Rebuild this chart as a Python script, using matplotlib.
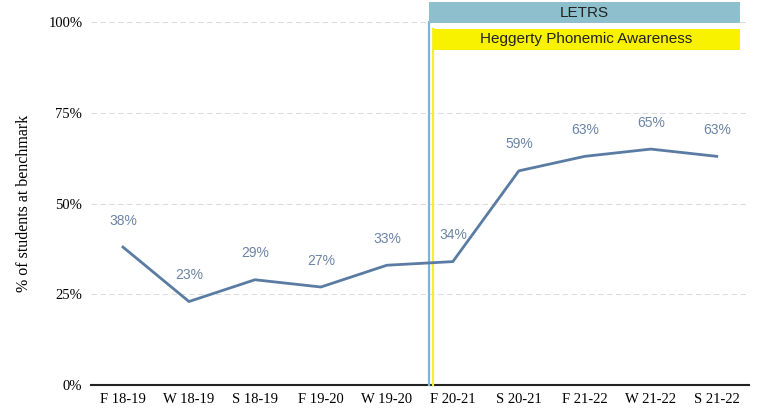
import matplotlib.pyplot as plt
from matplotlib.patches import Rectangle

# Benchmark data, fall / winter / spring per school year
terms = ['F 18-19', 'W 18-19', 'S 18-19', 'F 19-20', 'W 19-20',
         'F 20-21', 'S 20-21', 'F 21-22', 'W 21-22', 'S 21-22']
pct_benchmark = [38, 23, 29, 27, 33, 34, 59, 63, 65, 63]
y_ticks = [0, 25, 50, 75, 100]

fig = plt.figure(figsize=(7.62, 4.12), dpi=100)
ax = fig.add_axes([0.119, 0.0655, 0.864, 0.881])

x = list(range(len(terms)))
y = [v / 100 for v in pct_benchmark]
ax.plot(x, y, color='#5a7ca3', linewidth=2, zorder=4)

# data labels above each point
for xi, yi, v in zip(x, y, pct_benchmark):
    ax.annotate(f'{v}%', (xi, yi), xytext=(0, 19), textcoords='offset points',
                ha='center', va='center', fontsize=10, color='#6a84a6',
                family='Liberation Sans')

# faint dashed gridlines
for t in y_ticks[1:]:
    ax.axhline(t / 100, color='#dcdcdc', linewidth=0.8, linestyle=(0, (5, 3)), zorder=1)

ax.set_xlim(-0.49, 9.49)
ax.set_ylim(0, 1.0)
ax.set_xticks(x)
ax.set_xticklabels(terms, family='Liberation Serif', fontsize=10.5)
ax.set_yticks([t / 100 for t in y_ticks])
ax.set_yticklabels([f'{t}%' for t in y_ticks], family='Liberation Serif', fontsize=10.5)
ax.tick_params(length=0, pad=6)
ax.set_ylabel('% of students at benchmark', family='Liberation Serif', fontsize=11.5, labelpad=12)

for s in ['top', 'right', 'left']:
    ax.spines[s].set_visible(False)
ax.spines['bottom'].set_color('#222222')
ax.spines['bottom'].set_linewidth(1.5)

# program start markers
ax.plot([4.64, 4.64], [0, 1.0], color='#7fb4d6', linewidth=1.6, zorder=3, clip_on=False)
ax.plot([4.70, 4.70], [0, 0.98], color='#f4ee3a', linewidth=1.6, zorder=3, clip_on=False)

letrs = Rectangle((4.64, 0.997), 9.35 - 4.64, 0.058, facecolor='#8dc0cc',
                  edgecolor='none', clip_on=False, zorder=5)
ax.add_patch(letrs)
ax.text((4.64 + 9.35) / 2, 0.997 + 0.029, 'LETRS', ha='center', va='center',
        fontsize=11, color='#222222', family='Liberation Sans', zorder=6, clip_on=False)

hegg = Rectangle((4.70, 0.923), 9.35 - 4.70, 0.058, facecolor='#f8f200',
                 edgecolor='none', clip_on=False, zorder=5)
ax.add_patch(hegg)
ax.text((4.70 + 9.35) / 2, 0.923 + 0.029, 'Heggerty Phonemic Awareness', ha='center',
        va='center', fontsize=11, color='#222222', family='Liberation Sans', zorder=6)

fig.savefig('out.png', dpi=100)
